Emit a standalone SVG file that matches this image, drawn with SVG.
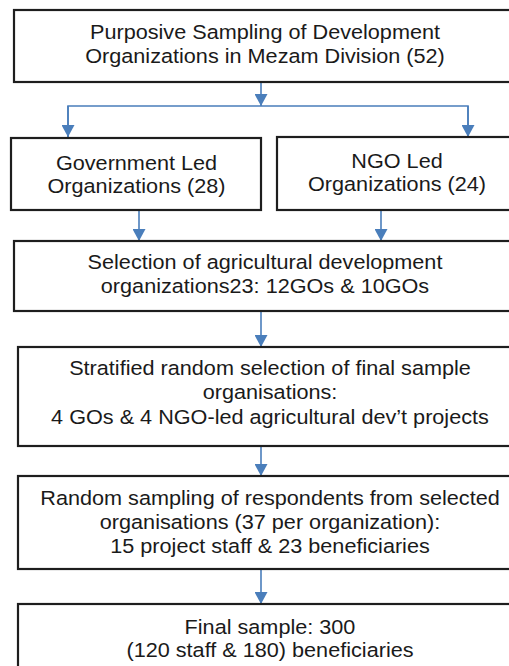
<svg xmlns="http://www.w3.org/2000/svg" width="509" height="666" viewBox="0 0 509 666">
<defs>
<style>
.box{fill:#fff;stroke:#1e1e1e;stroke-width:2.2}
.t{font-family:"Liberation Sans",Arial,sans-serif;font-size:19.5px;fill:#1a1a1a;text-anchor:middle}
.c{fill:none;stroke:#4a7ebb;stroke-width:1.6}
</style>
<marker id="ah" markerUnits="userSpaceOnUse" markerWidth="13" markerHeight="13" refX="12" refY="6.5" orient="auto">
<path d="M0,0 L12,6.5 L0,13 z" fill="#4a7ebb"/>
</marker>
</defs>
<rect width="509" height="666" fill="#fff"/>
<g id="connectors">
<path class="c" d="M261,82 V106" marker-end="url(#ah)"/>
<path class="c" d="M68,137 V106 H468 V137" />
<path class="c" d="M68,106 V137" marker-end="url(#ah)"/>
<path class="c" d="M468,106 V137" marker-end="url(#ah)"/>
<path class="c" d="M139,210 V241" marker-end="url(#ah)"/>
<path class="c" d="M381,210 V241" marker-end="url(#ah)"/>
<path class="c" d="M261,311 V347" marker-end="url(#ah)"/>
<path class="c" d="M261,446 V476" marker-end="url(#ah)"/>
<path class="c" d="M261,569 V604" marker-end="url(#ah)"/>
</g>
<g id="n1">
<rect class="box" x="14" y="10" width="502" height="72"/>
<text class="t" transform="translate(265 0) scale(1.11 1)"><tspan x="0" y="39.5">Purposive Sampling of Development</tspan><tspan x="0" y="63">Organizations in Mezam Division (52)</tspan></text>
</g>
<g id="n2">
<rect class="box" x="11" y="138" width="250" height="72"/>
<text class="t" transform="translate(136.5 0) scale(1.11 1)"><tspan x="0" y="170.5">Government Led</tspan><tspan x="0" y="193.5">Organizations (28)</tspan></text>
</g>
<g id="n3">
<rect class="box" x="277" y="137" width="241" height="73"/>
<text class="t" transform="translate(397 0) scale(1.11 1)"><tspan x="0" y="168">NGO Led</tspan><tspan x="0" y="191.5">Organizations (24)</tspan></text>
</g>
<g id="n4">
<rect class="box" x="14" y="241" width="502" height="70"/>
<text class="t" transform="translate(265 0) scale(1.11 1)"><tspan x="0" y="269">Selection of agricultural development</tspan><tspan x="0" y="293">organizations23: 12GOs &amp; 10GOs</tspan></text>
</g>
<g id="n5">
<rect class="box" x="18" y="347" width="504" height="99"/>
<text class="t" transform="translate(270 0) scale(1.11 1)"><tspan x="0" y="375">Stratified random selection of final sample</tspan><tspan x="0" y="399.5">organisations:</tspan><tspan x="0" y="424">4 GOs &amp; 4 NGO-led agricultural dev’t projects</tspan></text>
</g>
<g id="n6">
<rect class="box" x="18" y="476" width="504" height="93"/>
<text class="t" transform="translate(270 0) scale(1.11 1)"><tspan x="0" y="505">Random sampling of respondents from selected</tspan><tspan x="0" y="529">organisations (37 per organization):</tspan><tspan x="0" y="553">15 project staff &amp; 23 beneficiaries</tspan></text>
</g>
<g id="n7">
<rect class="box" x="18" y="604" width="504" height="72"/>
<text class="t" transform="translate(270 0) scale(1.11 1)"><tspan x="0" y="634.5">Final sample: 300</tspan><tspan x="0" y="657">(120 staff &amp; 180) beneficiaries</tspan></text>
</g>
</svg>
